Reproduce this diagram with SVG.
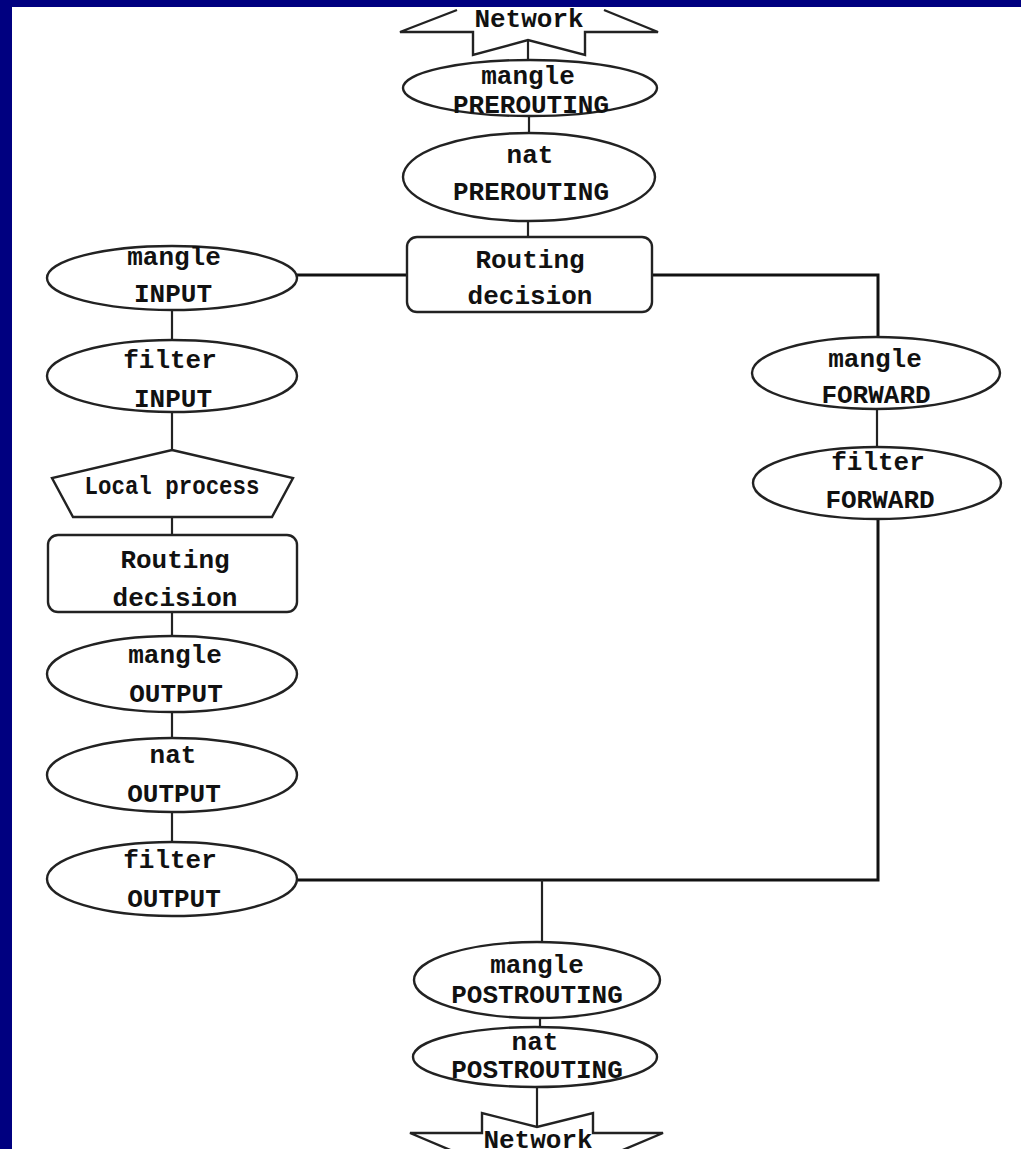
<svg xmlns="http://www.w3.org/2000/svg" width="1021" height="1149" viewBox="0 0 1021 1149">
<style>
.n{fill:#fff;stroke:#222;stroke-width:2.4}
.t{font-family:"Liberation Mono","Courier New",monospace;font-weight:bold;font-size:26px;fill:#111;text-anchor:middle}
.c{fill:none;stroke:#222;stroke-width:2.2}
.h{fill:none;stroke:#111;stroke-width:3}
</style>
<rect x="0" y="0" width="1021" height="1149" fill="#fff"/>
<g id="connectors">
<line class="c" x1="528" y1="40" x2="528" y2="61"/>
<line class="c" x1="529" y1="116" x2="529" y2="134"/>
<line class="c" x1="528" y1="220" x2="528" y2="238"/>
<line class="h" x1="296" y1="275" x2="408" y2="275"/>
<polyline class="h" points="651,275 878,275 878,338"/>
<line class="c" x1="172" y1="309" x2="172" y2="341"/>
<line class="c" x1="172" y1="411" x2="172" y2="451"/>
<line class="c" x1="172" y1="516" x2="172" y2="536"/>
<line class="c" x1="172" y1="611" x2="172" y2="637"/>
<line class="c" x1="172" y1="711" x2="172" y2="739"/>
<line class="c" x1="172" y1="811" x2="172" y2="843"/>
<line class="c" x1="877" y1="409" x2="877" y2="448"/>
<polyline class="h" points="296,880 878,880 878,519"/>
<line class="c" x1="542" y1="880" x2="542" y2="943"/>
<line class="c" x1="540" y1="1016" x2="540" y2="1028"/>
<line class="c" x1="537" y1="1086" x2="537" y2="1127"/>
</g>
<g id="network-top">
<polyline class="n" points="457,10 400,32 473,32 473,55 528,40 585,55 585,32 658,32 604,10"/>
<text class="t" x="529" y="27">Network</text>
</g>
<g id="mangle-prerouting">
<ellipse class="n" cx="530" cy="88" rx="127" ry="28"/>
<text class="t" x="528" y="84">mangle</text>
<text class="t" x="531" y="113">PREROUTING</text>
</g>
<g id="nat-prerouting">
<ellipse class="n" cx="529" cy="177" rx="126" ry="44"/>
<text class="t" x="530" y="163">nat</text>
<text class="t" x="531" y="200">PREROUTING</text>
</g>
<g id="routing-top">
<rect class="n" x="407" y="237" width="245" height="75" rx="10"/>
<text class="t" x="530" y="268">Routing</text>
<text class="t" x="530" y="304">decision</text>
</g>
<g id="mangle-input">
<ellipse class="n" cx="172" cy="278" rx="125" ry="32"/>
<text class="t" x="174" y="265">mangle</text>
<text class="t" x="173" y="302">INPUT</text>
</g>
<g id="filter-input">
<ellipse class="n" cx="172" cy="376" rx="125" ry="36"/>
<text class="t" x="170" y="368">filter</text>
<text class="t" x="173" y="407">INPUT</text>
</g>
<g id="local-process">
<polygon class="n" points="172,450 293,478 272,517 73,517 52,478"/>
<text class="t" x="172" y="494" textLength="175" lengthAdjust="spacingAndGlyphs">Local process</text>
</g>
<g id="routing-left">
<rect class="n" x="48" y="535" width="249" height="77" rx="10"/>
<text class="t" x="175" y="568">Routing</text>
<text class="t" x="175" y="606">decision</text>
</g>
<g id="mangle-output">
<ellipse class="n" cx="172" cy="674" rx="125" ry="38"/>
<text class="t" x="175" y="663">mangle</text>
<text class="t" x="176" y="702">OUTPUT</text>
</g>
<g id="nat-output">
<ellipse class="n" cx="172" cy="775" rx="125" ry="37"/>
<text class="t" x="173" y="763">nat</text>
<text class="t" x="174" y="802">OUTPUT</text>
</g>
<g id="filter-output">
<ellipse class="n" cx="172" cy="879" rx="125" ry="37"/>
<text class="t" x="170" y="868">filter</text>
<text class="t" x="174" y="907">OUTPUT</text>
</g>
<g id="mangle-forward">
<ellipse class="n" cx="876" cy="373" rx="124" ry="36"/>
<text class="t" x="875" y="367">mangle</text>
<text class="t" x="876" y="403">FORWARD</text>
</g>
<g id="filter-forward">
<ellipse class="n" cx="877" cy="483" rx="124" ry="36"/>
<text class="t" x="878" y="470">filter</text>
<text class="t" x="880" y="508">FORWARD</text>
</g>
<g id="mangle-postrouting">
<ellipse class="n" cx="537" cy="980" rx="123" ry="38"/>
<text class="t" x="537" y="973">mangle</text>
<text class="t" x="537" y="1003">POSTROUTING</text>
</g>
<g id="nat-postrouting">
<ellipse class="n" cx="535" cy="1057" rx="122" ry="30"/>
<text class="t" x="535" y="1050">nat</text>
<text class="t" x="537" y="1078">POSTROUTING</text>
</g>
<g id="network-bottom">
<polyline class="n" points="455,1152 410,1133 482,1133 482,1113 537,1127 593,1113 593,1133 663,1133 618,1152"/>
<text class="t" x="538" y="1148">Network</text>
</g>
<rect x="0" y="0" width="1021" height="7" fill="#000080"/>
<rect x="0" y="0" width="12" height="1149" fill="#000080"/>
</svg>
